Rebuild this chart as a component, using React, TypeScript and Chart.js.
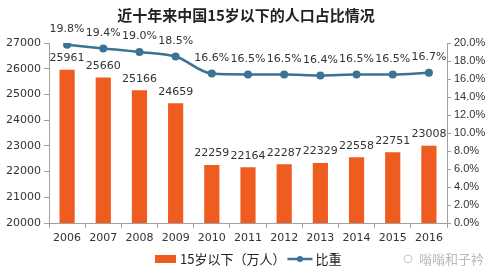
import React, { useEffect, useRef } from "react";
import { Chart, registerables } from "chart.js";

Chart.register(...registerables);

const categories = ["2006", "2007", "2008", "2009", "2010", "2011", "2012", "2013", "2014", "2015", "2016"];
const populationValues = [25961, 25660, 25166, 24659, 22259, 22164, 22287, 22329, 22558, 22751, 23008];
const shareValues = [19.8, 19.4, 19.0, 18.5, 16.6, 16.5, 16.5, 16.4, 16.5, 16.5, 16.7];
const leftTicks = [20000, 27000, 1000];
const rightTicks = [0, 20, 2];
const titleText = "近十年来中国15岁以下的人口占比情况";
const barLabel = "15岁以下（万人）";
const lineLabel = "比重";
const watermark = "嗡嗡和子衿";

const BAR = "#EE5C20";
const LINE = "#3A7394";
const AXIS = "#A0A0A0";
const NUM_FONT = "11px 'DejaVu Sans', sans-serif";
const CJK = "'Noto Sans CJK SC', sans-serif";

const decorPlugin = {
  id: "decor",
  afterDatasetsDraw(chart: any) {
    const ctx = chart.ctx;
    ctx.save();
    const barMeta = chart.getDatasetMeta(0);
    ctx.fillStyle = "#333";
    ctx.font = NUM_FONT;
    ctx.textAlign = "center";
    ctx.textBaseline = "bottom";
    barMeta.data.forEach((el: any, i: number) => {
      ctx.fillText(String(populationValues[i]), el.x, el.y - 6);
    });
    const lineMeta = chart.getDatasetMeta(1);
    lineMeta.data.forEach((el: any, i: number) => {
      ctx.fillText(shareValues[i].toFixed(1) + "%", el.x, el.y - 10);
    });
    ctx.restore();
  },
  afterDraw(chart: any) {
    const ctx = chart.ctx;
    ctx.save();
    ctx.fillStyle = "#222";
    ctx.font = "bold 15px " + CJK;
    ctx.textAlign = "center";
    ctx.textBaseline = "middle";
    ctx.fillText(titleText, 246, 15);
    const ly = 259;
    ctx.fillStyle = BAR;
    ctx.fillRect(155, ly - 4, 21, 8);
    ctx.fillStyle = "#222";
    ctx.font = "13px " + CJK;
    ctx.textAlign = "left";
    ctx.fillText(barLabel, 180, ly);
    const tw = ctx.measureText(barLabel).width;
    const lx = 180 + tw + 2;
    ctx.strokeStyle = LINE;
    ctx.lineWidth = 2.5;
    ctx.beginPath();
    ctx.moveTo(lx, ly);
    ctx.lineTo(lx + 25, ly);
    ctx.stroke();
    ctx.fillStyle = LINE;
    ctx.beginPath();
    ctx.arc(lx + 12.5, ly, 3, 0, Math.PI * 2);
    ctx.fill();
    ctx.fillStyle = "#222";
    ctx.fillText(lineLabel, lx + 28, ly);
    ctx.fillStyle = "#B8B8B8";
    ctx.strokeStyle = "#C8C8C8";
    ctx.lineWidth = 1;
    ctx.beginPath();
    ctx.arc(408, ly, 4, 0, Math.PI * 2);
    ctx.stroke();
    ctx.font = "13px " + CJK;
    ctx.fillText(watermark, 419, ly);
    ctx.restore();
  },
};

export default function App() {
  const ref = useRef<HTMLCanvasElement | null>(null);
  useEffect(() => {
    document.body.style.margin = "0";
    const chart = new Chart(ref.current as HTMLCanvasElement, {
      type: "bar",
      data: {
        labels: categories,
        datasets: [
          {
            type: "bar",
            label: barLabel,
            data: populationValues,
            backgroundColor: BAR,
            yAxisID: "y",
            barPercentage: 0.42,
            categoryPercentage: 1,
            order: 2,
          },
          {
            type: "line",
            label: lineLabel,
            data: shareValues,
            borderColor: LINE,
            backgroundColor: LINE,
            borderWidth: 2.5,
            pointRadius: 4,
            pointBackgroundColor: LINE,
            pointBorderWidth: 0,
            cubicInterpolationMode: "monotone",
            yAxisID: "y1",
            order: 1,
          } as any,
        ],
      },
      options: {
        animation: false,
        responsive: false,
        layout: { padding: { top: 43, right: 0, left: 0, bottom: 0 } },
        plugins: { legend: { display: false }, title: { display: false }, tooltip: { enabled: false } },
        scales: {
          x: {
            grid: { display: true, drawOnChartArea: false, offset: true, color: AXIS, tickLength: 5 },
            border: { color: AXIS },
            ticks: { color: "#333", font: { family: "'DejaVu Sans', sans-serif", size: 11 }, padding: 4 },
            afterFit(s: any) { s.height = 52; },
          },
          y: {
            position: "left",
            min: leftTicks[0],
            max: leftTicks[1],
            ticks: {
              stepSize: leftTicks[2],
              color: "#333",
              font: { family: "'DejaVu Sans', sans-serif", size: 11 },
              padding: 3,
              callback: (v: any) => String(v),
            },
            grid: { display: true, drawOnChartArea: false, color: AXIS, tickLength: 5 },
            border: { color: AXIS },
            afterFit(s: any) { s.width = 49; },
          },
          y1: {
            position: "right",
            min: rightTicks[0],
            max: rightTicks[1],
            ticks: {
              stepSize: rightTicks[2],
              color: "#333",
              font: { family: "'Liberation Sans', sans-serif", size: 11 },
              padding: 3,
              callback: (v: any) => Number(v).toFixed(1) + "%",
            },
            grid: { display: true, drawOnChartArea: false, color: AXIS, tickLength: 4 },
            border: { color: AXIS },
            afterFit(s: any) { s.width = 45; },
          },
        },
      },
      plugins: [decorPlugin],
    } as any);
    return () => chart.destroy();
  }, []);
  return <canvas ref={ref} width={492} height={275} style={{ display: "block" }} />;
}
